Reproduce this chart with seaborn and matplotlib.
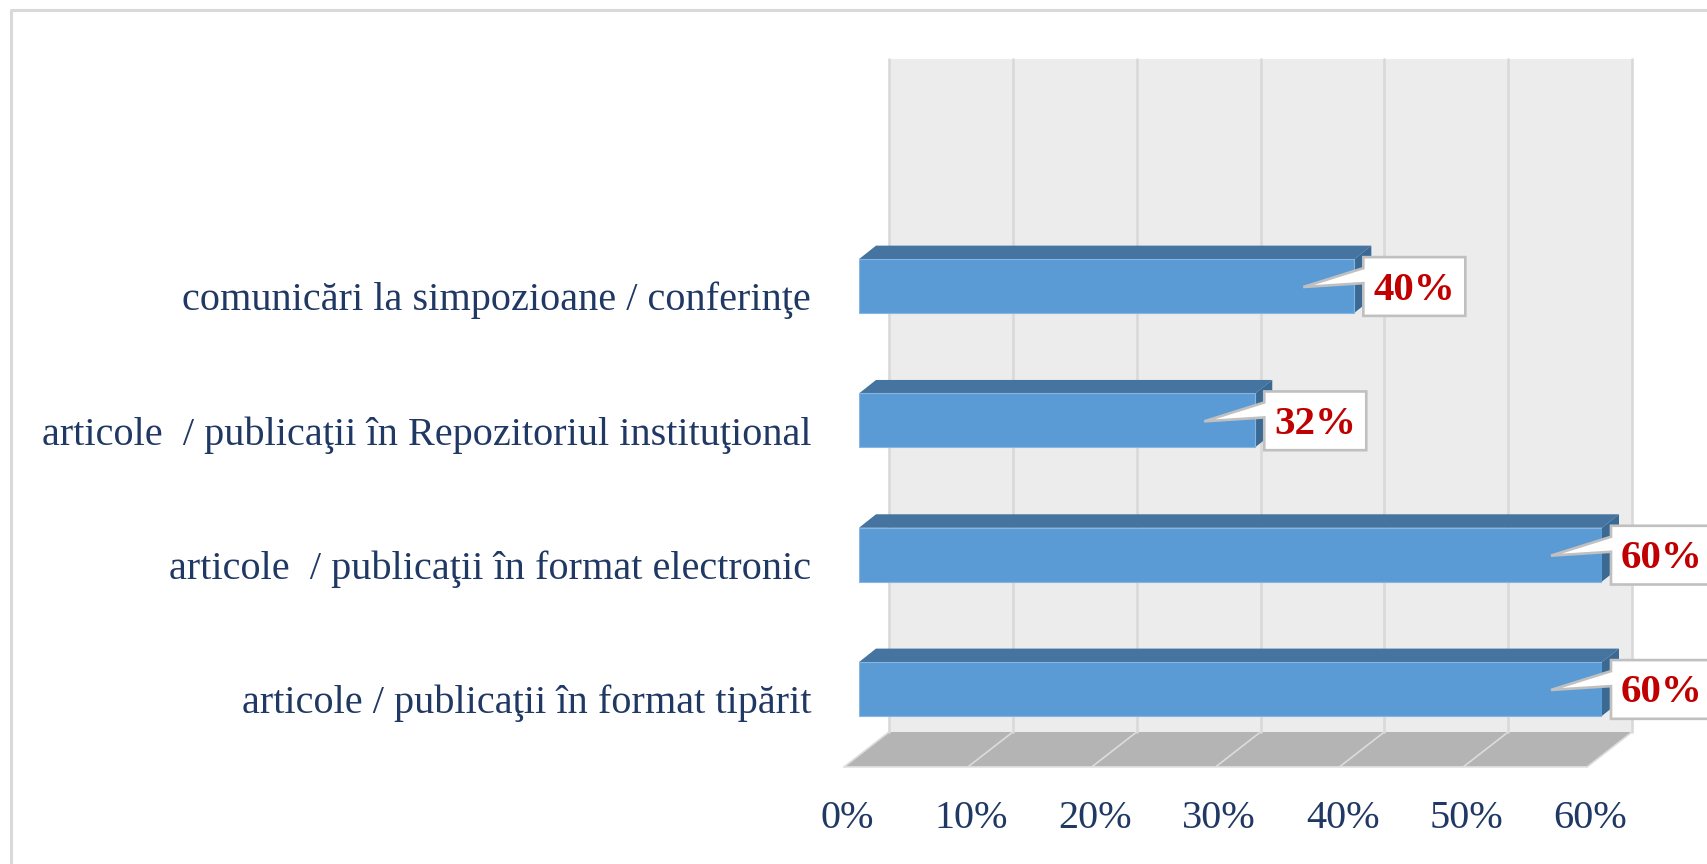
import matplotlib
matplotlib.use('Agg')
import matplotlib.pyplot as plt
from matplotlib.patches import Polygon
from matplotlib.transforms import Affine2D, IdentityTransform
import seaborn as sns

categorii = ['comunicări la simpozioane / conferinţe',
             'articole  / publicaţii în Repozitoriul instituţional',
             'articole  / publicaţii în format electronic',
             'articole / publicaţii în format tipărit']
procente = [40, 32, 60, 60]
xticks = [0, 10, 20, 30, 40, 50, 60]
xticklabels = ['0%', '10%', '20%', '30%', '40%', '50%', '60%']

W, H = 1707, 864
NAVY = '#203864'

sns.set_style('white')
plt.rcParams['font.family'] = ['Liberation Serif', 'DejaVu Serif']

fig = plt.figure(figsize=(W / 100, H / 100), dpi=100)
# axa acopera planul frontal al barelor: 0% la x=859, 60% la x=1602
ax = fig.add_axes([859 / W, 1 - 767 / H, (1602 - 859) / W, (767 - 59) / H])

sns.barplot(x=procente, y=categorii, orient='h', color='#5b9bd5', saturation=1,
            width=0.4, edgecolor='#86b5e0', linewidth=0.8, ax=ax, zorder=3)
ax.set_xlim(0, 60)
ax.set_ylim(3.581, -1.69)
ax.set_xticks(xticks)
ax.set_xticklabels(xticklabels)
ax.set_xlabel('')
ax.set_ylabel('')
ax.patch.set_visible(False)
for s in ax.spines.values():
    s.set_visible(False)
ax.grid(False)
ax.tick_params(axis='x', length=0, pad=23.4, labelsize=29, labelcolor=NAVY)
ax.tick_params(axis='y', length=0, pad=34.5, labelsize=29, labelcolor=NAVY)

# etichetele nu stau pe planul barelor, ci pe muchia podelei
for t in ax.get_xticklabels():
    t.set_transform(t.get_transform() + Affine2D().translate(-11.5, 0))
for t in ax.get_yticklabels():
    t.set_transform(t.get_transform() + Affine2D().translate(0, -10))

px = IdentityTransform()


def pt(x, y):
    # x,y in pixeli de sus-stanga -> display
    return (x, H - y)


def poly(points, **kw):
    kw.setdefault('linewidth', 0)
    p = Polygon([pt(*q) for q in points], closed=True, transform=px, clip_on=False, **kw)
    ax.add_patch(p)


def xpix(v):
    return ax.transData.transform((v, 0))[0]


# peretele si podeaua
poly([(xpix(0) + 30, 59), (xpix(60) + 30, 59), (xpix(60) + 30, 732), (xpix(0) + 30, 732)],
     facecolor='#ececec', zorder=0.5)
poly([(xpix(0) - 15, 767), (xpix(60) - 15, 767), (xpix(60) + 30, 732), (xpix(0) + 30, 732)],
     facecolor='#b4b4b4', zorder=0.6)
for v in xticks:
    xb = xpix(v) + 30
    xf = xpix(v) - 15
    ax.plot([xb, xb], [H - 59, H - 732], transform=px, color='#d9d9d9', lw=1.9, clip_on=False, zorder=0.8)
    ax.plot([xf, xb], [H - 767, H - 732], transform=px, color='#dcdcdc', lw=1.2, clip_on=False, zorder=0.8)
ax.plot([xpix(0) - 15, xpix(60) - 15], [H - 767, H - 767], transform=px, color='#e2e2e2', lw=1.2,
        clip_on=False, zorder=0.8)

# fetele 3D ale barelor si casetele cu valori
for i, (bar, v) in enumerate(zip(ax.patches, procente)):
    (x0, yb), (x1, yt) = ax.transData.transform([(bar.get_x(), bar.get_y() + bar.get_height()),
                                                 (bar.get_x() + bar.get_width(), bar.get_y())])
    top, bot = H - yt, H - yb
    poly([(x0, top), (x1, top), (x1 + 17, top - 13.5), (x0 + 17, top - 13.5)],
         facecolor='#44749f', zorder=2.5)
    poly([(x1, top), (x1 + 17, top - 13.5), (x1 + 17, bot - 13.5), (x1, bot)],
         facecolor='#3a6a94', zorder=2.5)
    mid = (top + bot) / 2
    bl, br = x1 + 9, x1 + 111
    bt, bb = top - 2, bot + 3
    poly([(bl, bt), (br, bt), (br, bb), (bl, bb), (bl, top + 24), (x1 - 51, mid + 1), (bl, top + 9)],
         facecolor='white', edgecolor='#c0c0c0', linewidth=1.9, joinstyle='miter', zorder=4)
    ax.annotate('%d%%' % v, (v, i), xytext=(60, -4), textcoords='offset pixels', ha='center', va='center',
                fontsize=29.5, fontweight='bold', color='#c00000', zorder=5, annotation_clip=False)

# chenarul graficului, taiat la dreapta si jos
fig.add_artist(plt.Line2D([11 / W, 11 / W, 1], [0, 1 - 10 / H, 1 - 10 / H], color='#d9d9d9', lw=2.2))

fig.savefig('out.png', dpi=100)
